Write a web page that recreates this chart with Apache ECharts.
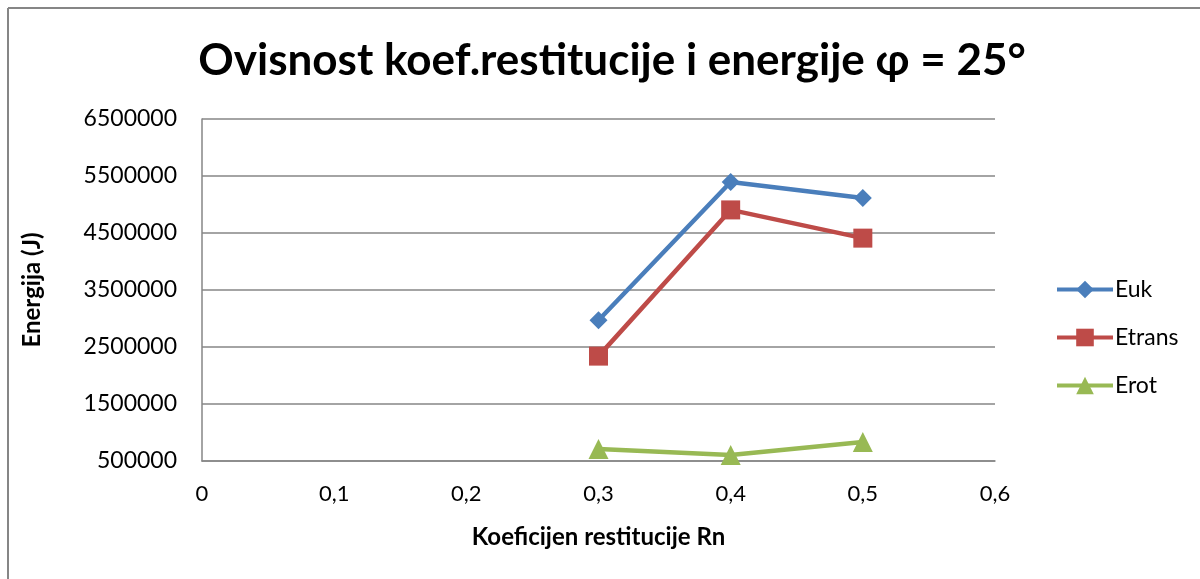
<!DOCTYPE html>
<html>
<head>
<meta charset="utf-8">
<script src="https://cdn.jsdelivr.net/npm/echarts@6/dist/echarts.min.js"></script>
<style>
  html, body { margin: 0; padding: 0; background: #fff; }
  #main { width: 1200px; height: 579px; }
</style>
</head>
<body>
<div id="main"></div>
<script>
// koeficijent restitucije Rn
const rn = [0.3, 0.4, 0.5];
// energije (J), ocitano sa grafa
const euk = [2970000, 5395000, 5115000];
const etrans = [2340000, 4905000, 4410000];
const erot = [710000, 605000, 835000];

const xTicks = [0, 0.1, 0.2, 0.3, 0.4, 0.5, 0.6];

const chart = echarts.init(document.getElementById('main'));
const font = 'Lato, "Open Sans", sans-serif';

function pairs(ys) {
  return rn.map((x, i) => [x, ys[i]]);
}

const option = {
  backgroundColor: '#fff',
  textStyle: { fontFamily: font },
  title: {
    text: 'Ovisnost koef.restitucije i energije φ = 25°',
    left: 607,
    textAlign: 'center',
    top: 34,
    textStyle: { fontSize: 44, fontWeight: 'bold', color: '#000', fontFamily: font }
  },
  graphic: [
    { type: 'line', shape: { x1: 8, y1: 8, x2: 1200, y2: 8 }, style: { stroke: '#868686', lineWidth: 2 } },
    { type: 'line', shape: { x1: 8, y1: 8, x2: 8, y2: 579 }, style: { stroke: '#868686', lineWidth: 2 } }
  ],
  legend: {
    orient: 'vertical',
    left: 1050,
    top: 273,
    itemWidth: 56,
    itemHeight: 22,
    itemGap: 25,
    lineStyle: { width: 4 },
    textStyle: { fontSize: 23, color: '#000', fontFamily: font, padding: [0, 0, 0, -3] },
    data: ['Euk', 'Etrans', 'Erot']
  },
  grid: { left: 202, right: 205, top: 119, bottom: 118 },
  xAxis: {
    type: 'value',
    min: 0,
    max: 0.6,
    interval: 0.1,
    name: 'Koeficijen restitucije Rn',
    nameLocation: 'middle',
    nameGap: 64,
    nameTextStyle: { fontSize: 24, fontWeight: 'bold', color: '#000' },
    axisLine: { lineStyle: { color: '#868686', width: 1.5 } },
    axisTick: { show: false },
    splitLine: { show: false },
    axisLabel: {
      fontSize: 22,
      color: '#000',
      margin: 22,
      formatter: v => {
        const t = xTicks.find(k => Math.abs(k - v) < 1e-9);
        return t === undefined ? '' : String(t).replace('.', ',');
      }
    }
  },
  yAxis: {
    type: 'value',
    min: 500000,
    max: 6500000,
    interval: 1000000,
    name: 'Energija (J)',
    nameLocation: 'middle',
    nameGap: 158,
    nameTextStyle: { fontSize: 24, fontWeight: 'bold', color: '#000' },
    axisLine: { show: true, lineStyle: { color: '#868686', width: 1.5 } },
    axisTick: { show: false },
    splitLine: { lineStyle: { color: '#868686', width: 1.5 } },
    axisLabel: { fontSize: 23, color: '#000', margin: 25, formatter: v => String(v) }
  },
  series: [
    {
      name: 'Euk', type: 'line', data: pairs(euk),
      symbol: 'diamond', symbolSize: 18,
      lineStyle: { color: '#4a7ebb', width: 4.5 },
      itemStyle: { color: '#4a7ebb' }
    },
    {
      name: 'Etrans', type: 'line', data: pairs(etrans),
      symbol: 'rect', symbolSize: 19,
      lineStyle: { color: '#be4b48', width: 4.5 },
      itemStyle: { color: '#be4b48' }
    },
    {
      name: 'Erot', type: 'line', data: pairs(erot),
      symbol: 'triangle', symbolSize: 20,
      lineStyle: { color: '#98b954', width: 4.5 },
      itemStyle: { color: '#98b954' }
    }
  ]
};

chart.setOption(option);
</script>
</body>
</html>
